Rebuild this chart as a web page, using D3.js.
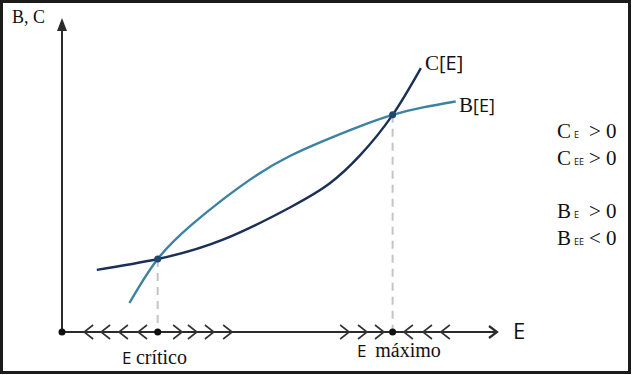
<!DOCTYPE html>
<html>
<head>
<meta charset="utf-8">
<script src="https://cdn.jsdelivr.net/npm/d3@7"></script>
<style>
  body { margin: 0; background: #fff; }
  svg { display: block; }
</style>
</head>
<body>
<svg id="chart" width="632" height="375"></svg>
<script>
// cost curve C[E] (convex)
var costE = [0.8, 2.2, 3.7, 5.25, 6.15, 6.85, 7.6, 8.25];
var costV = [1.99, 2.34, 2.96, 4.0, 4.76, 5.66, 6.96, 8.46];

// benefit curve B[E] (concave)
var benE = [1.55, 2.2, 2.95, 3.7, 4.5, 5.25, 6.0, 6.8, 7.6, 8.3, 9.05];
var benV = [0.93, 2.34, 3.4, 4.25, 5.05, 5.65, 6.12, 6.57, 6.96, 7.2, 7.39];

// intersections
var eCritico = 2.2, eMaximo = 7.6;
var cutV = [2.34, 6.96];

// direction marks on the E axis
var leftMarks = [0.6, 0.99, 1.4, 1.84, 7.95, 8.39, 8.8];
var rightMarks = [2.67, 3.01, 3.4, 3.82, 6.51, 6.92, 7.31];

var SERIF = "'Liberation Serif', 'Times New Roman', serif",
    SANS = "'Open Sans', 'Liberation Sans', sans-serif";

var svg = d3.select("#chart");

var x = d3.scaleLinear().domain([0, 10]).range([62, 497]),
    y = d3.scaleLinear().domain([0, 10]).range([332, 20]);

// frame
svg.append("rect")
    .attr("x", 1.5).attr("y", 1.5)
    .attr("width", 628).attr("height", 371)
    .attr("fill", "none")
    .attr("stroke", "#1b1b1b")
    .attr("stroke-width", 3);

// axes
var ax = svg.append("g").attr("stroke", "#2b2b2b").attr("stroke-width", 2);
ax.append("line").attr("x1", x(0)).attr("y1", y(0)).attr("x2", x(0)).attr("y2", 28);
ax.append("line").attr("x1", x(0)).attr("y1", y(0)).attr("x2", x(10) - 2).attr("y2", y(0));
svg.append("path")
    .attr("d", "M" + x(0) + ",18 L" + (x(0) - 5) + ",31 L" + (x(0) + 5) + ",31 Z")
    .attr("fill", "#2b2b2b");
svg.append("path")
    .attr("d", "M" + (x(10) - 8) + "," + (y(0) - 6) + " L" + x(10) + "," + y(0) + " L" + (x(10) - 8) + "," + (y(0) + 6))
    .attr("fill", "none")
    .attr("stroke", "#2b2b2b")
    .attr("stroke-width", 2.2);

// chevrons
var marks = svg.append("g")
    .attr("fill", "none")
    .attr("stroke", "#333")
    .attr("stroke-width", 1.6);

marks.selectAll(".lt")
  .data(leftMarks)
  .enter().append("path")
    .attr("d", function(d) {
      var px = x(d), py = y(0);
      return "M" + (px + 5) + "," + (py - 7) + " L" + (px - 4) + "," + py + " L" + (px + 5) + "," + (py + 7);
    });

marks.selectAll(".gt")
  .data(rightMarks)
  .enter().append("path")
    .attr("d", function(d) {
      var px = x(d), py = y(0);
      return "M" + (px - 5) + "," + (py - 7) + " L" + (px + 4) + "," + py + " L" + (px - 5) + "," + (py + 7);
    });

// dashed guides
svg.selectAll(".guide")
  .data([[eCritico, cutV[0]], [eMaximo, cutV[1]]])
  .enter().append("line")
    .attr("x1", function(d) { return x(d[0]); })
    .attr("x2", function(d) { return x(d[0]); })
    .attr("y1", function(d) { return y(d[1]); })
    .attr("y2", y(0))
    .attr("stroke", "#c4c4c4")
    .attr("stroke-width", 2)
    .attr("stroke-dasharray", "8,6");

var line = d3.line()
    .x(function(d) { return x(d[0]); })
    .y(function(d) { return y(d[1]); })
    .curve(d3.curveNatural);

svg.append("path")
    .datum(d3.zip(benE, benV))
    .attr("d", line)
    .attr("fill", "none")
    .attr("stroke", "#3b82a3")
    .attr("stroke-width", 2.4);

svg.append("path")
    .datum(d3.zip(costE, costV))
    .attr("d", line)
    .attr("fill", "none")
    .attr("stroke", "#1a3057")
    .attr("stroke-width", 2.4);

// dots
svg.selectAll(".cut")
  .data([[eCritico, cutV[0]], [eMaximo, cutV[1]]])
  .enter().append("circle")
    .attr("cx", function(d) { return x(d[0]); })
    .attr("cy", function(d) { return y(d[1]); })
    .attr("r", 3.5)
    .attr("fill", "#1d4670");

svg.selectAll(".axdot")
  .data([0, eCritico, eMaximo])
  .enter().append("circle")
    .attr("cx", function(d) { return x(d); })
    .attr("cy", y(0))
    .attr("r", 3.5)
    .attr("fill", "#111");

// labels
function label(px, py, parts) {
  var t = svg.append("text").attr("x", px).attr("y", py).attr("fill", "#111");
  parts.forEach(function(p) {
    t.append("tspan")
        .attr("font-family", p[1] == "serif" ? SERIF : SANS)
        .attr("font-size", p[2])
        .attr("xml:space", "preserve")
        .text(p[0]);
  });
  return t;
}

label(12, 23, [["B, C", "serif", 18]]);
label(513, 339, [["E", "sans", 22]]);
label(122, 364, [["E ", "sans", 17], ["crítico", "serif", 20]]);
label(357, 357, [["E  ", "sans", 17], ["máximo", "serif", 20]]);
label(425, 70, [["C", "serif", 21], ["[E]", "sans", 20]]);
label(459, 112, [["B", "serif", 21], ["[E]", "sans", 18]]);

var conds = [
  ["C", "E", ">", 138],
  ["C", "EE", ">", 165],
  ["B", "E", ">", 218],
  ["B", "EE", "<", 245]
];
conds.forEach(function(c) {
  var t = svg.append("text").attr("x", 557).attr("y", c[3]).attr("fill", "#111");
  t.append("tspan").attr("font-family", SERIF).attr("font-size", 21).text(c[0]);
  t.append("tspan").attr("font-family", SANS).attr("font-size", 9).attr("dx", 3).text(c[1]);
  t.append("tspan").attr("font-family", SERIF).attr("font-size", 21).attr("x", 589).text(c[2] + " 0");
});
</script>
</body>
</html>
